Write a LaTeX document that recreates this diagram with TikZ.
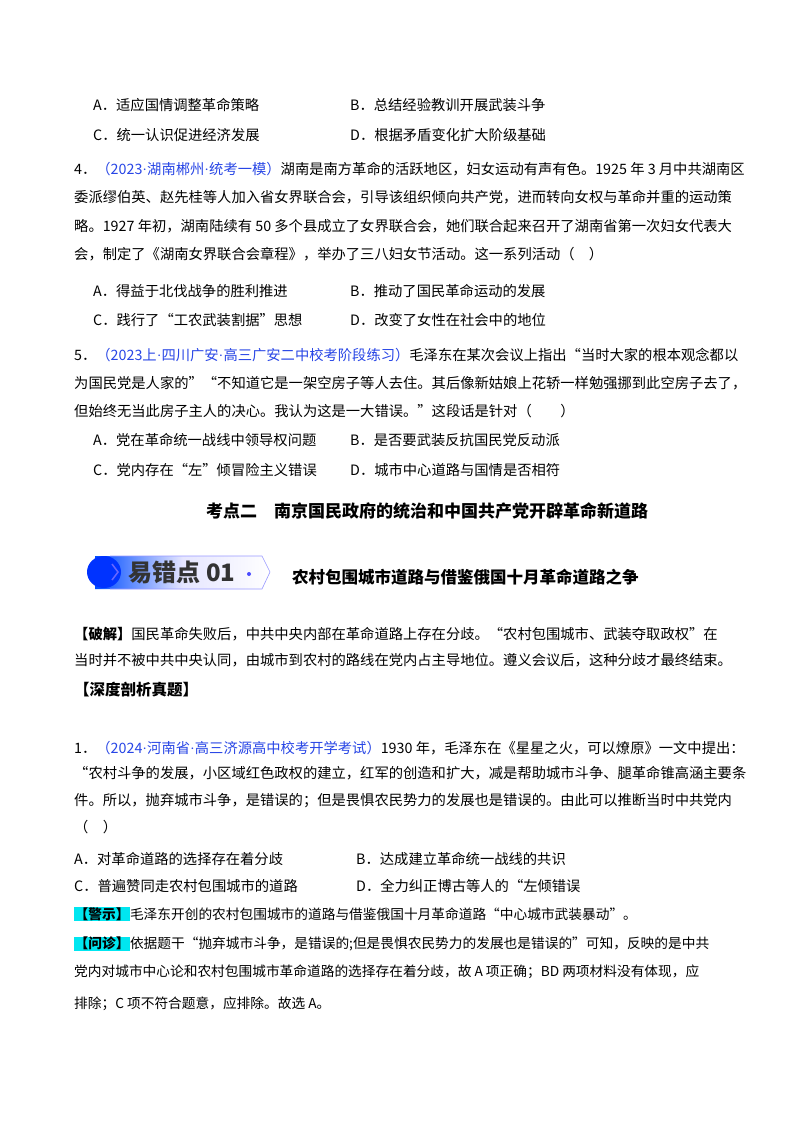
\documentclass[tikz,border=0pt]{standalone}
\usepackage{fontspec}
\setmainfont{Noto Sans CJK SC}
\newfontfamily\lat{Liberation Serif}
\newcommand{\md}{{\lat ·}}
\begin{document}
\definecolor{src}{RGB}{40,70,230}
\definecolor{hl}{RGB}{0,230,240}
\begin{tikzpicture}[x=1pt,y=-1pt,
 t/.style={anchor=west,inner sep=0pt,font=\fontsize{14.3}{16}\selectfont},
 s/.style={anchor=west,inner sep=0pt,font=\fontsize{13.7}{15}\selectfont}]
\useasboundingbox[fill=white] (0,0) rectangle (800,1132);
% options top
\node[t] (a1) at (93,105) {A．适应国情调整革命策略};
\node[t] (b1) at (350,105) {B．总结经验教训开展武装斗争};
\node[t] (c1) at (93,135) {C．统一认识促进经济发展};
\node[t] (d1) at (350,135) {D．根据矛盾变化扩大阶级基础};
\node[t] (q4) at (74,169) {4．\textcolor{src}{（2023\md 湖南郴州\md 统考一模）}湖南是南方革命的活跃地区，妇女运动有声有色。1925 年 3 月中共湖南区};
\node[t] (q4b) at (74,197) {委派缪伯英、赵先桂等人加入省女界联合会，引导该组织倾向共产党，进而转向女权与革命并重的运动策};
\node[t] (q4c) at (74,226) {略。1927 年初，湖南陆续有 50 多个县成立了女界联合会，她们联合起来召开了湖南省第一次妇女代表大};
\node[t] (q4d) at (74,254) {会，制定了《湖南女界联合会章程》，举办了三八妇女节活动。这一系列活动（\quad）};
\node[t] (a4) at (93,291) {A．得益于北伐战争的胜利推进};
\node[t] (b4) at (350,291) {B．推动了国民革命运动的发展};
\node[t] (c4) at (93,320) {C．践行了“工农武装割据”思想};
\node[t] (d4) at (350,320) {D．改变了女性在社会中的地位};
\node[t] (q5) at (74,355) {5．\textcolor{src}{（2023上\md 四川广安\md 高三广安二中校考阶段练习）}毛泽东在某次会议上指出“当时大家的根本观念都以};
\node[t] (q5b) at (74,383) {为国民党是人家的”“不知道它是一架空房子等人去住。其后像新姑娘上花轿一样勉强挪到此空房子去了，};
\node[t] (q5c) at (74,411) {但始终无当此房子主人的决心。我认为这是一大错误。”这段话是针对（\quad\quad）};
\node[t] (a5) at (93,440) {A．党在革命统一战线中领导权问题};
\node[t] (b5) at (350,440) {B．是否要武装反抗国民党反动派};
\node[t] (c5) at (93,470) {C．党内存在“左”倾冒险主义错误};
\node[t] (d5) at (350,470) {D．城市中心道路与国情是否相符};
\node[inner sep=0pt,font=\fontsize{17}{20}\selectfont\bfseries] (h2) at (427,511) {考点二\quad 南京国民政府的统治和中国共产党开辟革命新道路};
% banner
\shade[left color=blue!70!cyan,right color=white,middle color=blue!10] (95,556) -- (262,556) -- (270,572) -- (262,589) -- (95,589) -- cycle;
\draw[blue!40,line width=0.6pt] (110,556) -- (262,556) -- (270,572) -- (262,589) -- (110,589);
\fill[blue!80!cyan] (104,572) ellipse (17 and 16);
\draw[blue!60,line width=1.5pt] (112,564) -- (118,572) -- (112,580);
\node[inner sep=0pt,font=\fontsize{24}{26}\selectfont\bfseries,text=black!80] (bt) at (182,572) {易错点 01};
\fill[blue!70] (249,574) circle (2);
\node[t,font=\fontsize{16.5}{18}\selectfont\bfseries] (bh) at (292,577) {农村包围城市道路与借鉴俄国十月革命道路之争};
\node[t] (p1) at (74,634) {\textbf{【破解】}国民革命失败后，中共中央内部在革命道路上存在分歧。“农村包围城市、武装夺取政权”在};
\node[t] (p2) at (74,660) {当时并不被中共中央认同，由城市到农村的路线在党内占主导地位。遵义会议后，这种分歧才最终结束。};
\node[t,font=\fontsize{15.5}{18}\selectfont\bfseries] (h3) at (74,690) {【深度剖析真题】};
\node[t] (q1) at (74,748) {1．\textcolor{src}{（2024\md 河南省\md 高三济源高中校考开学考试）}1930 年，毛泽东在《星星之火，可以燎原》一文中提出：};
\node[t] (q1b) at (74,773) {“农村斗争的发展，小区域红色政权的建立，红军的创造和扩大，减是帮助城市斗争、腿革命锥高涵主要条};
\node[t] (q1c) at (74,801) {件。所以，抛弃城市斗争，是错误的；但是畏惧农民势力的发展也是错误的。由此可以推断当时中共党内};
\node[t] (q1d) at (74,827) {（\quad）};
\node[t] (a6) at (74,859) {A．对革命道路的选择存在着分歧};
\node[t] (b6) at (356,859) {B．达成建立革命统一战线的共识};
\node[t] (c6) at (74,886) {C．普遍赞同走农村包围城市的道路};
\node[t] (d6) at (356,886) {D．全力纠正博古等人的“左倾错误};
\node[s] (w1) at (74,914) {\fboxsep=0.5pt\colorbox{hl}{\textbf{【警示】}}毛泽东开创的农村包围城市的道路与借鉴俄国十月革命道路“中心城市武装暴动”。};
\node[s] (w2) at (74,944) {\fboxsep=0.5pt\colorbox{hl}{\textbf{【问诊】}}依据题干“抛弃城市斗争，是错误的;但是畏惧农民势力的发展也是错误的”可知，反映的是中共};
\node[s] (w3) at (74,972) {党内对城市中心论和农村包围城市革命道路的选择存在着分歧，故 A 项正确；BD 两项材料没有体现，应};
\node[s] (w4) at (74,1004) {排除；C 项不符合题意，应排除。故选 A。};
\end{tikzpicture}
\end{document}
